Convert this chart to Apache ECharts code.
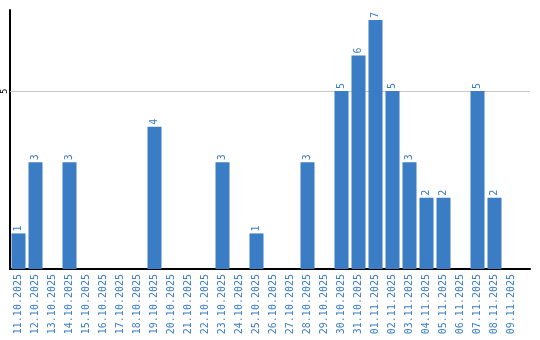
<!DOCTYPE html>
<html><head><meta charset="utf-8">
<script src="https://cdn.jsdelivr.net/npm/echarts@6/dist/echarts.min.js"></script>
<style>html,body{margin:0;padding:0;background:#fff}#c{width:540px;height:340px}</style>
</head><body><div id="c"></div>
<script>
const dates = ['11.10.2025','12.10.2025','13.10.2025','14.10.2025','15.10.2025','16.10.2025','17.10.2025','18.10.2025','19.10.2025','20.10.2025','21.10.2025','22.10.2025','23.10.2025','24.10.2025','25.10.2025','26.10.2025','27.10.2025','28.10.2025','29.10.2025','30.10.2025','31.10.2025','01.11.2025','02.11.2025','03.11.2025','04.11.2025','05.11.2025','06.11.2025','07.11.2025','08.11.2025','09.11.2025'];
const counts = [1,3,0,3,0,0,0,0,4,0,0,0,3,0,1,0,0,3,0,5,6,7,5,3,2,2,0,5,2,0];
const yTicks = [5];

const blue = '#3b7dc4';
const chart = echarts.init(document.getElementById('c'));
chart.setOption({
  animation: false,
  grid: {left: 10, right: 10, top: 10, bottom: 71, containLabel: false},
  xAxis: {
    type: 'value', min: -0.5, max: 30.088, interval: 0.5,
    axisLine: {show: true, onZero: false, lineStyle: {color: '#000', width: 2}},
    axisTick: {show: false},
    splitLine: {show: false},
    axisLabel: {
      rotate: 90, margin: 5, color: blue, fontFamily: 'DejaVu Sans Mono', fontSize: 10,
      showMinLabel: false, showMaxLabel: false,
      formatter: v => (Number.isInteger(v) && dates[v]) ? dates[v] : ''
    }
  },
  yAxis: {
    type: 'value', min: 0, max: 7.28, interval: 5,
    axisLine: {show: true, onZero: false, lineStyle: {color: '#000', width: 2}},
    axisTick: {show: false},
    splitLine: {show: false},
    axisLabel: {
      rotate: 90, margin: 1, color: '#000', fontFamily: 'DejaVu Sans', fontSize: 8,
      formatter: v => yTicks.includes(v) ? String(v) : ''
    }
  },
  series: [{
    type: 'line', data: [], z: 1, silent: true,
    markLine: {
      silent: true, symbol: 'none', label: {show: false}, z: 1,
      lineStyle: {color: '#c8c8c8', type: 'solid', width: 1},
      data: yTicks.map(t => ({yAxis: t}))
    }
  }, {
    type: 'bar', barWidth: 14,
    data: counts.map((v, i) => [i, v]),
    itemStyle: {color: blue},
    label: {
      show: true, position: 'top', rotate: 90, align: 'left', verticalAlign: 'middle', distance: 2,
      color: blue, fontFamily: 'DejaVu Sans Mono', fontSize: 10,
      formatter: p => p.value[1] ? String(p.value[1]) : ''
    },
    z: 3
  }]
});
</script></body></html>
